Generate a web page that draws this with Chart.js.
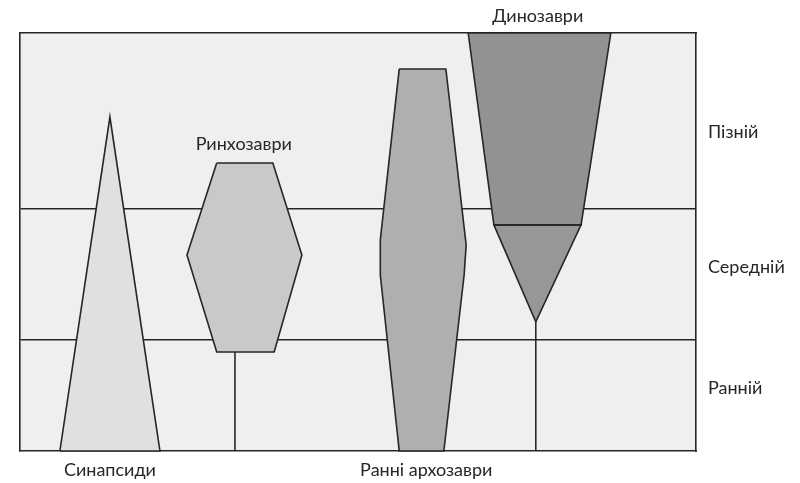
<!DOCTYPE html>
<html>
<head>
<meta charset="utf-8">
<script src="https://cdn.jsdelivr.net/npm/chart.js@4.4.1/dist/chart.umd.min.js"></script>
<style>
  html, body { margin: 0; padding: 0; background: #fff; }
  #wrap { width: 800px; height: 483px; }
</style>
</head>
<body>
<div id="wrap"><canvas id="spindles"></canvas></div>
<script>
// Triassic periods (right axis) and where their labels sit
const periods = ['Ранній', 'Середній', 'Пізній'];
const periodLabelY = [15.1, 44.0, 76.3];
const periodBounds = [26.6, 57.9];

// group names and where their labels sit
const bottomGroups = ['Синапсиди', 'Ранні архозаври'];
const bottomGroupX = [13.3, 60.1];
const topGroups = ['Динозаври'];
const topGroupX = [76.6];
const innerGroup = 'Ринхозаври';
const innerGroupPos = [33.1, 73.4];

// spindle outlines (x = relative diversity position, y = time)
const synapsids = [[5.9, 0], [13.3, 79.9], [20.7, 0], [5.9, 0]];
const rhynchosaurs = [[29.1, 68.9], [37.4, 68.9], [41.7, 46.9], [37.6, 23.7], [29.1, 23.7], [24.7, 46.9], [29.1, 68.9]];
const rhynchoStem = [[31.8, 0], [31.8, 23.7]];
const earlyArchosaurs = [[56.1, 91.4], [63.0, 91.4], [66.0, 49.3], [65.7, 42.1], [62.7, 0], [56.1, 0], [53.3, 42.1], [53.3, 50.5], [56.1, 91.4]];
const dinosaursLate = [[66.3, 100], [87.4, 100], [83.0, 54.1], [70.1, 54.1], [66.3, 100]];
const dinosaursMiddle = [[70.1, 54.1], [83.0, 54.1], [76.3, 30.9], [70.1, 54.1]];
const dinoStem = [[76.3, 0], [76.3, 30.9]];

const toPts = arr => arr.map(p => ({ x: p[0], y: p[1] }));
const ink = '#262626';
const textColor = '#262626';
const fontSpec = { family: 'Lato', size: 18 };

function shape(label, pts, color) {
    return {
        label: label,
        data: toPts(pts),
        showLine: true,
        fill: 'shape',
        backgroundColor: color,
        borderColor: ink,
        borderWidth: 1.6,
        pointRadius: 0,
        pointHoverRadius: 0,
        clip: false
    };
}

function stem(label, pts) {
    return {
        label: label,
        data: toPts(pts),
        showLine: true,
        fill: false,
        borderColor: ink,
        borderWidth: 1.6,
        pointRadius: 0,
        pointHoverRadius: 0
    };
}

const plotBackground = {
    id: 'plotBackground',
    beforeDraw(chart) {
        const { ctx, chartArea: a } = chart;
        ctx.save();
        ctx.fillStyle = '#efefef';
        ctx.fillRect(a.left, a.top, a.right - a.left, a.bottom - a.top);
        ctx.restore();
    }
};

const innerLabel = {
    id: 'innerLabel',
    afterDraw(chart) {
        const { ctx, scales } = chart;
        ctx.save();
        ctx.font = '18px Lato';
        ctx.fillStyle = textColor;
        ctx.textAlign = 'center';
        ctx.textBaseline = 'middle';
        ctx.fillText(innerGroup, scales.x.getPixelForValue(innerGroupPos[0]), scales.y.getPixelForValue(innerGroupPos[1]));
        ctx.restore();
    }
};

new Chart(document.getElementById('spindles'), {
    type: 'scatter',
    data: {
        datasets: [
            stem('Ринхозаври', rhynchoStem),
            stem('Динозаври', dinoStem),
            shape('Синапсиди', synapsids, '#e0e0e0'),
            shape('Ринхозаври', rhynchosaurs, '#c9c9c9'),
            shape('Ранні архозаври', earlyArchosaurs, '#afafaf'),
            shape('Динозаври', dinosaursLate, '#929292'),
            shape('Динозаври', dinosaursMiddle, '#979797')
        ]
    },
    options: {
        responsive: true,
        maintainAspectRatio: false,
        animation: false,
        events: [],
        layout: { padding: 0 },
        plugins: {
            legend: { display: false },
            tooltip: { enabled: false }
        },
        scales: {
            x: {
                type: 'linear', position: 'bottom', min: 0, max: 100,
                afterBuildTicks: s => { s.ticks = bottomGroupX.map(v => ({ value: v })); },
                afterFit: s => { s.height = 32; },
                ticks: { callback: (v, i) => bottomGroups[i], font: fontSpec, color: textColor, padding: 8, maxRotation: 0, autoSkip: false },
                grid: { display: false, drawTicks: false },
                border: { display: true, color: ink, width: 1.6 }
            },
            x2: {
                type: 'linear', position: 'top', min: 0, max: 100,
                afterBuildTicks: s => { s.ticks = topGroupX.map(v => ({ value: v })); },
                afterFit: s => { s.height = 33; },
                ticks: { callback: (v, i) => topGroups[i], font: fontSpec, color: textColor, padding: 6, maxRotation: 0, autoSkip: false },
                grid: { display: false, drawTicks: false },
                border: { display: true, color: ink, width: 1.6 }
            },
            y: {
                type: 'linear', position: 'left', min: 0, max: 100,
                afterBuildTicks: s => { s.ticks = periodBounds.map(v => ({ value: v })); },
                afterFit: s => { s.width = 20; },
                ticks: { display: false },
                grid: { color: ink, lineWidth: 1.6, drawTicks: false },
                border: { display: true, color: ink, width: 1.6 }
            },
            y2: {
                type: 'linear', position: 'right', min: 0, max: 100,
                afterBuildTicks: s => { s.ticks = periodLabelY.map(v => ({ value: v })); },
                afterFit: s => { s.width = 104; },
                ticks: { callback: (v, i) => periods[i], font: fontSpec, color: textColor, padding: 12, autoSkip: false },
                grid: { display: false, drawTicks: false },
                border: { display: true, color: ink, width: 1.6 }
            }
        }
    },
    plugins: [plotBackground, innerLabel]
});
</script>
</body>
</html>
